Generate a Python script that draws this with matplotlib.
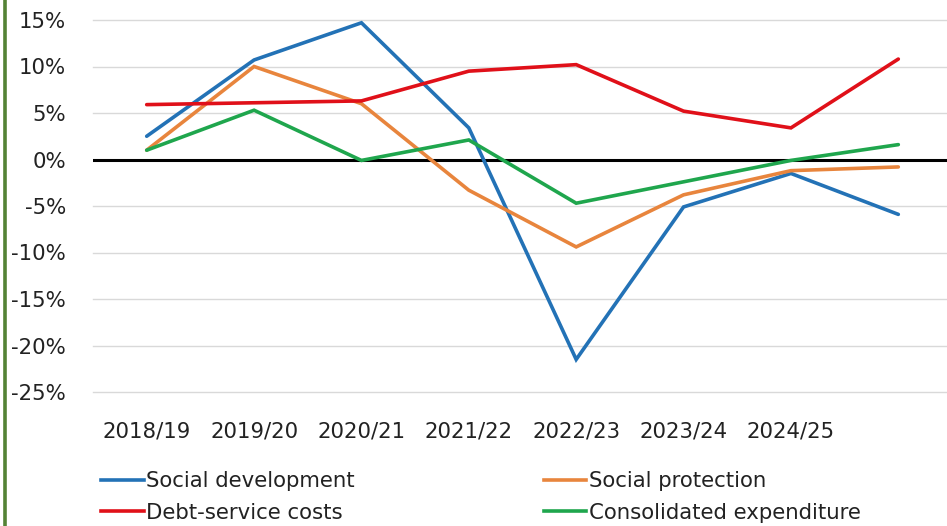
import numpy as np
import matplotlib
matplotlib.use("Agg")
import matplotlib.pyplot as plt
from matplotlib.lines import Line2D

years = ["2018/19", "2019/20", "2020/21", "2021/22", "2022/23", "2023/24", "2024/25", ""]

social_development = [2.5, 10.7, 14.7, 3.4, -21.5, -5.1, -1.5, -5.9]
social_protection = [1.0, 10.0, 6.0, -3.3, -9.4, -3.8, -1.2, -0.8]
debt_service = [5.9, 6.1, 6.3, 9.5, 10.2, 5.2, 3.4, 10.8]
consolidated = [1.0, 5.3, -0.1, 2.1, -4.7, -2.4, -0.1, 1.6]

y_ticks = [-25, -20, -15, -10, -5, 0, 5, 10, 15]

plt.rcParams['font.family'] = ['DejaVu Sans']

W, H = 947, 526
fig = plt.figure(figsize=(W / 100, H / 100), dpi=100)

# axes box in pixels: left 93, right 952 (runs past the edge), top 20, bottom 392
left, right, top, bottom = 93, 952, 20, 392
ax = fig.add_axes([left / W, 1 - bottom / H, (right - left) / W, (bottom - top) / H])

x = np.arange(len(years))
series = [
    ("Social development", social_development, "#2372B6"),
    ("Social protection", social_protection, "#E8853D"),
    ("Debt-service costs", debt_service, "#E01019"),
    ("Consolidated expenditure", consolidated, "#1FA64D"),
]

for y in y_ticks:
    if y != 0:
        ax.axhline(y, color="#D9D9D9", lw=1.0, zorder=1, clip_on=False)
ax.axhline(0, color="black", lw=2.2, zorder=2)

lines = {}
for name, vals, col in series:
    lines[name], = ax.plot(x, vals, color=col, lw=2.6, label=name, zorder=3,
                           solid_capstyle="round", solid_joinstyle="miter")

ax.set_xlim(-0.5, len(years) - 0.5)
ax.set_ylim(-25, 15)
ax.set_yticks(y_ticks)
ax.set_yticklabels([f"{t}%" for t in y_ticks])
ax.set_xticks(x)
ax.set_xticklabels(years)
ax.tick_params(axis="both", length=0, labelsize=15.3, colors="#222222")
ax.tick_params(axis="y", pad=19.5)
ax.tick_params(axis="x", pad=21)
for s in ax.spines.values():
    s.set_visible(False)

# legend reads across rows, so list entries column by column
order = ["Social development", "Debt-service costs",
         "Social protection", "Consolidated expenditure"]
handles = [Line2D([], [], color=lines[n].get_color(), lw=2.6) for n in order]
fig.legend(handles, order, ncol=2, loc="upper left",
           bbox_to_anchor=(84 / W, 1 - 454 / H), frameon=False,
           fontsize=15.3, handlelength=2.0, handletextpad=0.12,
           columnspacing=8.9, labelspacing=0.55, borderpad=0.3,
           labelcolor="#222222")

# green frame edge on the left
fig.add_artist(Line2D([4.8 / W, 4.8 / W], [0, 1], transform=fig.transFigure,
                      color="#548235", lw=2.6))

fig.savefig("out.png", dpi=100)
